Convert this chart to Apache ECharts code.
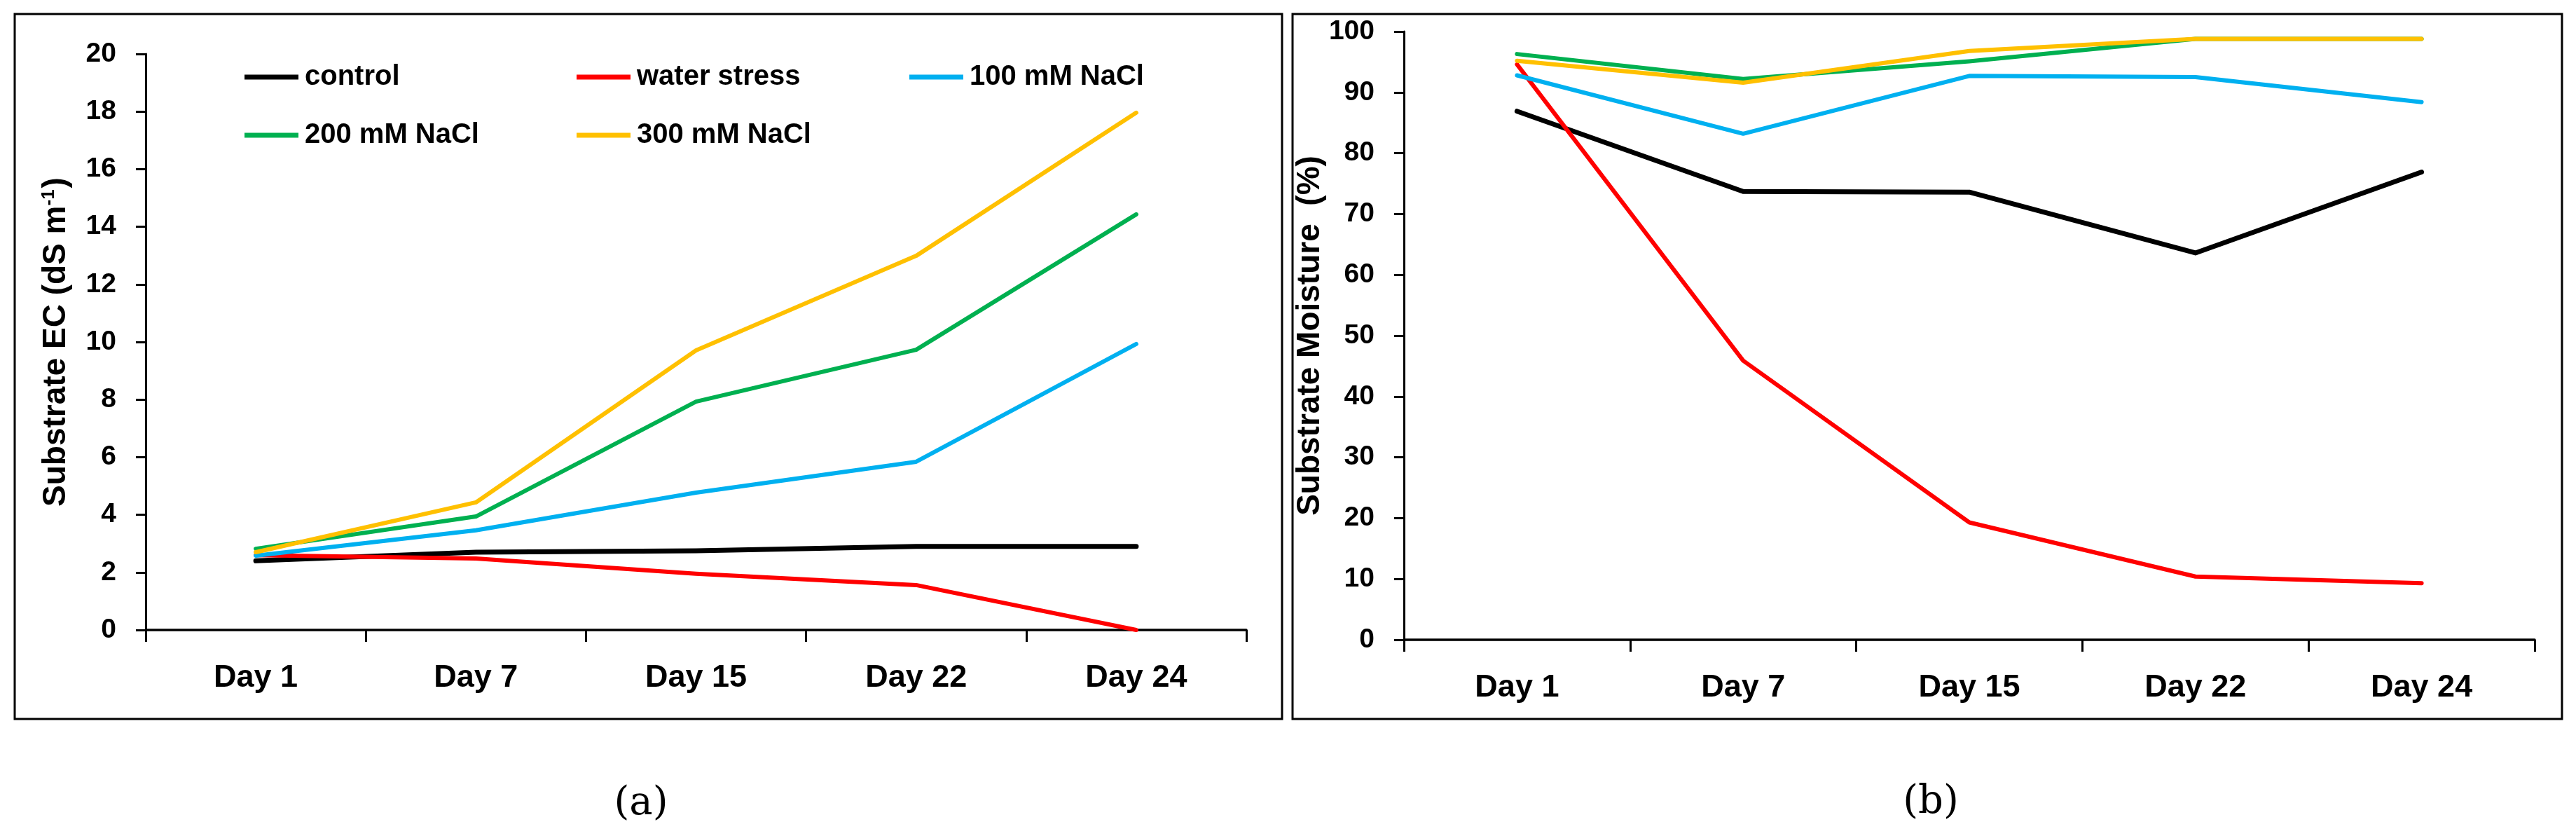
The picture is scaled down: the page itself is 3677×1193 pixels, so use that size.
<!DOCTYPE html>
<html><head><meta charset="utf-8">
<script src="https://cdn.jsdelivr.net/npm/echarts/dist/echarts.min.js"></script>
<style>html,body{margin:0;padding:0;background:#fff}#c{width:3677px;height:1193px}</style>
</head><body><div id="c"></div>
<script>
// ---- data ----
const categories = ['Day 1', 'Day 7', 'Day 15', 'Day 22', 'Day 24'];
const seriesNames = ['control', 'water stress', '100 mM NaCl', '200 mM NaCl', '300 mM NaCl'];
// Substrate EC (dS m-1)
const ecControl = [2.4, 2.7, 2.75, 2.9, 2.9];
const ecWater   = [2.6, 2.48, 1.95, 1.56, 0.0];
const ec100     = [2.58, 3.46, 4.77, 5.84, 9.93];
const ec200     = [2.82, 3.94, 7.93, 9.73, 14.43];
const ec300     = [2.7, 4.43, 9.71, 12.99, 17.96];
// Substrate Moisture (%)
const moistControl = [86.9, 73.7, 73.6, 63.6, 76.9];
const moistWater   = [94.6, 45.9, 19.3, 10.4, 9.3];
const moist100     = [92.8, 83.2, 92.7, 92.5, 88.4];
const moist200     = [96.3, 92.2, 95.1, 98.8, 98.8];
const moist300     = [95.2, 91.6, 96.8, 98.8, 98.8];
const ecTicks = {min: 0, max: 20, interval: 2};
const moistTicks = {min: 0, max: 100, interval: 10};

// ---- styles ----
const colors = ['#000000', '#FF0000', '#00B0F0', '#00B050', '#FFC000'];
const FONT = 'Liberation Sans';
const chart = echarts.init(document.getElementById('c'), null, {renderer: 'canvas'});

function xAxisCfg(gridIndex) {
  return {
    type: 'category', gridIndex, data: categories, boundaryGap: true,
    axisLine: {show: true, lineStyle: {color: '#000', width: 3.5}},
    axisTick: {show: true, inside: false, length: 17, alignWithLabel: false, interval: 0, lineStyle: {color: '#000', width: 3}},
    axisLabel: {color: '#000', fontFamily: FONT, fontWeight: 'bold', fontSize: 45, margin: 46, interval: 0},
    splitLine: {show: false}
  };
}
function yAxisCfg(gridIndex, ticks, name, nameGap) {
  return {
    type: 'value', gridIndex, min: ticks.min, max: ticks.max, interval: ticks.interval,
    name, nameLocation: 'middle', nameGap,
    nameTextStyle: {color: '#000', fontFamily: FONT, fontWeight: 'bold', fontSize: 46,
      rich: {sup: {fontSize: 26, fontFamily: FONT, fontWeight: 'bold', color: '#000', verticalAlign: 'top', padding: [0, 2, 14, 0]}}},
    axisLine: {show: true, lineStyle: {color: '#000', width: 3}},
    axisTick: {show: true, inside: false, length: 14, lineStyle: {color: '#000', width: 3}},
    axisLabel: {color: '#000', fontFamily: FONT, fontWeight: 'bold', fontSize: 39, margin: 42},
    splitLine: {show: false}
  };
}
function lineSeries(name, data, idx, axisIndex) {
  return {
    type: 'line', name, data, xAxisIndex: axisIndex, yAxisIndex: axisIndex,
    symbol: 'none', showSymbol: false, smooth: false, animation: false,
    lineStyle: {color: colors[idx], width: idx === 0 ? 7 : 6, cap: 'round', join: 'round'},
    itemStyle: {color: colors[idx]}
  };
}
const ecData = [ecControl, ecWater, ec100, ec200, ec300];
const moistData = [moistControl, moistWater, moist100, moist200, moist300];
const series = [];
ecData.forEach((d, i) => series.push(lineSeries(seriesNames[i], d, i, 0)));
moistData.forEach((d, i) => series.push(lineSeries(seriesNames[i], d, i, 1)));

function legendCfg(left, names) {
  return {
    orient: 'vertical', left, top: 83, itemGap: 39, itemWidth: 77, itemHeight: 7,
    icon: 'rect', selectedMode: false, data: names,
    textStyle: {color: '#000', fontFamily: FONT, fontWeight: 'bold', fontSize: 40, lineHeight: 44, padding: [0, 0, 0, 4]}
  };
}

chart.setOption({
  animation: false,
  backgroundColor: '#fff',
  grid: [
    {left: 208, top: 77, width: 1571, height: 822, containLabel: false},
    {left: 2004, top: 45, width: 1614, height: 868, containLabel: false}
  ],
  xAxis: [xAxisCfg(0), xAxisCfg(1)],
  yAxis: [
    yAxisCfg(0, ecTicks, 'Substrate EC (dS m{sup|-1})', 105),
    yAxisCfg(1, moistTicks, 'Substrate Moisture  (%)', 93)
  ],
  legend: [
    legendCfg(344, [seriesNames[0], seriesNames[3]]),
    legendCfg(818, [seriesNames[1], seriesNames[4]]),
    legendCfg(1293, [seriesNames[2]])
  ],
  series,
  graphic: [
    {type: 'rect', z: -1, shape: {x: 21, y: 20, width: 1809, height: 1006}, style: {fill: 'none', stroke: '#000', lineWidth: 3}},
    {type: 'rect', z: -1, shape: {x: 1845, y: 20, width: 1812, height: 1006}, style: {fill: 'none', stroke: '#000', lineWidth: 3}},
    {type: 'text', x: 915, y: 1147, style: {text: '(a)', fill: '#000', font: '56px "DejaVu Serif"', textAlign: 'center', textVerticalAlign: 'middle'}},
    {type: 'text', x: 2756, y: 1145, style: {text: '(b)', fill: '#000', font: '56px "DejaVu Serif"', textAlign: 'center', textVerticalAlign: 'middle'}}
  ]
});
</script></body></html>
